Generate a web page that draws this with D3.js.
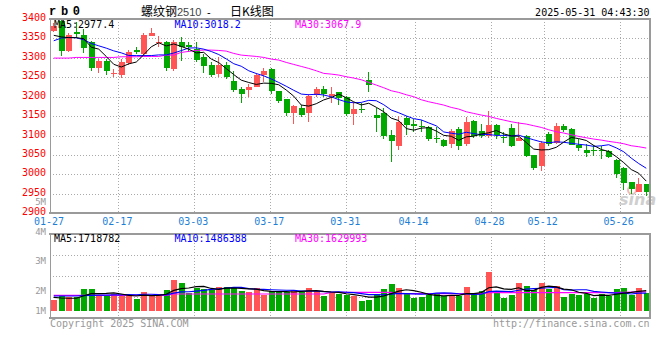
<!DOCTYPE html>
<html><head><meta charset="utf-8">
<script src="https://cdn.jsdelivr.net/npm/d3@7/dist/d3.min.js"></script>
<style>
html,body{margin:0;padding:0;background:#fff;}
svg{display:block;}
text{font-family:"DejaVu Sans Mono",monospace;font-size:10px;}
</style>
</head><body>
<svg id="chart" width="660" height="360"></svg>
<script>
// ---------------- data ----------------
const dates = ["01-27","02-05","02-06","02-07","02-10","02-11","02-12","02-13","02-14","02-17",
"02-18","02-19","02-20","02-21","02-24","02-25","02-26","02-27","02-28","03-03",
"03-04","03-05","03-06","03-07","03-10","03-11","03-12","03-13","03-14","03-17",
"03-18","03-19","03-20","03-21","03-24","03-25","03-26","03-27","03-28","03-31",
"04-01","04-02","04-03","04-07","04-08","04-09","04-10","04-11","04-14","04-15",
"04-16","04-17","04-18","04-21","04-22","04-23","04-24","04-25","04-28","04-29",
"04-30","05-06","05-07","05-08","05-09","05-12","05-13","05-14","05-15","05-16",
"05-19","05-20","05-21","05-22","05-23","05-26","05-27","05-28","05-29","05-30"];

const openP = [3370,3394,3318,3366,3358,3341,3273,3293,3259,3257,
3288,3320,3310,3357,3340,3340,3271,3341,3334,3323,
3301,3281,3258,3281,3241,3221,3217,3226,3256,3271,
3215,3194,3158,3172,3157,3204,3221,3202,3211,3198,
3155,3169,3244,3153,3158,3102,3072,3145,3131,3125,
3121,3093,3089,3078,3117,3078,3138,3112,3100,3128,
3097,3119,3087,3100,3051,3022,3104,3082,3125,3117,
3076,3064,3062,3064,3061,3038,3016,2980,2956,2975];
const highP = [3390,3398,3364,3392,3374,3344,3297,3297,3271,3297,
3321,3329,3365,3378,3355,3344,3346,3354,3340,3340,
3310,3290,3301,3290,3267,3226,3232,3260,3273,3273,
3216,3195,3178,3178,3208,3226,3228,3224,3211,3202,
3187,3184,3264,3170,3172,3115,3151,3151,3142,3141,
3125,3121,3091,3118,3121,3147,3139,3130,3164,3130,
3109,3130,3134,3101,3051,3087,3108,3132,3130,3119,
3091,3078,3076,3072,3064,3040,3018,2981,2990,2975];
const lowP = [3366,3306,3314,3352,3312,3267,3260,3256,3250,3247,
3281,3310,3305,3355,3329,3267,3267,3293,3314,3290,
3260,3250,3252,3245,3213,3185,3200,3224,3238,3208,
3185,3151,3131,3149,3134,3200,3200,3184,3179,3151,
3128,3158,3213,3110,3091,3031,3064,3101,3110,3110,
3087,3081,3070,3067,3063,3074,3095,3093,3095,3091,
3082,3070,3087,3044,3012,3010,3074,3078,3110,3076,
3061,3046,3048,3041,3042,2992,2961,2950,2954,2944];
const closeP = [3383,3318,3359,3362,3325,3273,3293,3265,3261,3290,
3314,3316,3359,3363,3342,3273,3342,3327,3327,3295,
3280,3256,3281,3250,3218,3208,3226,3256,3267,3215,
3190,3158,3177,3153,3201,3221,3207,3208,3196,3155,
3168,3167,3230,3144,3098,3085,3136,3127,3124,3124,
3091,3092,3072,3112,3072,3136,3100,3100,3128,3101,
3093,3074,3095,3048,3016,3082,3078,3125,3115,3076,
3067,3054,3061,3063,3044,3001,2977,2962,2975,2955];

const ma5 = [3358,3354,3352,3352,3349.4,3327.4,3322.4,3303.6,3283.4,3276.4,
3284.6,3289.2,3308,3328.4,3338.8,3330.6,3335.8,3329.4,3322.2,3312.8,
3314.2,3297,3287.8,3272.4,3257,3242.6,3236.6,3231.6,3235,3234.4,
3230.8,3217.2,3201.4,3178.6,3175.8,3182,3191.8,3198,3206.6,3197.4,
3186.8,3178.8,3183.2,3172.8,3161.4,3144.8,3138.6,3118,3114,3119.2,
3120.4,3111.6,3100.6,3098.2,3087.8,3096.8,3098.4,3104,3107.2,3113,
3104.4,3099.2,3098.2,3082.2,3065.2,3063,3063.8,3069.8,3083.2,3095.2,
3092.2,3087.4,3074.6,3064.2,3059,3045.8,3030.4,3012.6,3003,2982.8];
const ma10 = [3344,3351,3352.6,3351.7,3346.6,3337,3331,3325,3318,3312.9,
3306,3305.8,3305.8,3305.9,3307.6,3307.6,3312.5,3318.7,3325.3,3325.8,
3322.4,3316.4,3308.6,3297.3,3284.9,3278.4,3266.8,3259.7,3253.7,3245.7,
3236.7,3226.9,3216.5,3206.8,3205.1,3206.4,3204.5,3199.7,3192.6,3186.6,
3184.4,3185.3,3190.6,3189.7,3179.4,3165.8,3158.7,3150.6,3143.4,3140.3,
3132.6,3125.1,3109.3,3106.1,3103.5,3108.6,3105,3102.3,3102.7,3100.4,
3100.6,3098.8,3101.1,3094.7,3089.1,3083.7,3081.5,3084,3082.7,3080.2,
3077.6,3075.6,3072.2,3073.7,3076.5,3068.4,3058.3,3042,3028,3015.9];
const ma30 = [3299.4,3299.4,3299.4,3301.1,3301.1,3301.1,3301.1,3301.1,3301.1,3302.8,
3302.8,3302.8,3303.7,3303.7,3303.7,3307.1,3307.1,3314,3316.6,3319.1,
3320,3320,3319.1,3317.4,3311.4,3307.1,3305.4,3303.7,3301.1,3296.8,
3294.3,3288.3,3283.1,3278,3272.8,3266.8,3260,3258.2,3255.7,3251.4,
3248,3243.7,3236.8,3230,3223.1,3215.4,3211.1,3205.1,3200,3192.2,
3187,3182.8,3178.5,3172.5,3168.2,3161.3,3157,3152.8,3149.4,3144.2,
3139.9,3135.6,3132.2,3129.6,3125.3,3121,3115,3109.9,3106.5,3102.2,
3097.9,3094.4,3091,3088.4,3085,3082.4,3079,3073.9,3071.3,3067.9];

// volume in millions of lots
const volumeM = [0.93,1.27,1.16,1.21,1.86,1.86,1.27,1.27,1.44,1.36,
1.27,1.02,1.61,1.27,1.44,1.78,2.63,2.37,1.55,1.98,
1.86,1.78,2.03,2.03,2.03,1.69,1.61,1.95,1.36,1.69,
1.61,1.61,1.78,1.61,1.95,1.69,1.27,1.55,1.44,1.36,
1.27,0.85,0.93,1.44,1.86,2.29,1.95,1.44,1.10,1.19,
1.36,1.50,1.27,1.27,1.27,2.03,1.55,1.69,3.31,1.69,
1.10,1.36,2.37,2.12,1.78,2.37,1.86,2.12,1.19,1.44,
1.36,1.40,1.09,1.47,1.27,1.85,1.94,1.36,1.94,1.52];
const volMa5 = [1.16,1.10,1.08,1.08,1.29,1.47,1.47,1.49,1.54,1.44,
1.32,1.27,1.34,1.31,1.32,1.42,1.75,1.90,1.95,2.06,
2.08,1.91,1.84,1.94,1.95,1.91,1.88,1.86,1.73,1.66,
1.64,1.64,1.61,1.66,1.71,1.73,1.66,1.61,1.58,1.46,
1.38,1.29,1.17,1.17,1.27,1.47,1.69,1.80,1.73,1.59,
1.41,1.32,1.28,1.32,1.33,1.47,1.48,1.56,1.97,2.05,
1.87,1.83,1.97,1.73,1.75,2.00,2.10,2.05,1.86,1.80,
1.59,1.50,1.30,1.35,1.32,1.42,1.52,1.58,1.67,1.72];
const volMa10 = [1.27,1.27,1.27,1.27,1.30,1.33,1.35,1.35,1.36,1.36,
1.40,1.37,1.42,1.42,1.38,1.37,1.51,1.62,1.63,1.69,
1.75,1.83,1.87,1.95,2.00,2.00,1.89,1.85,1.83,1.80,
1.78,1.76,1.74,1.69,1.69,1.69,1.65,1.61,1.62,1.59,
1.55,1.48,1.39,1.38,1.37,1.43,1.49,1.48,1.45,1.43,
1.44,1.51,1.54,1.52,1.46,1.44,1.40,1.42,1.64,1.69,
1.67,1.65,1.76,1.85,1.90,1.93,1.97,2.01,1.80,1.77,
1.80,1.80,1.67,1.61,1.56,1.51,1.51,1.44,1.51,1.52];
const volMa30 = [1.33,1.33,1.33,1.33,1.33,1.33,1.33,1.33,1.33,1.33,
1.33,1.33,1.33,1.33,1.33,1.33,1.44,1.44,1.44,1.44,
1.44,1.44,1.44,1.44,1.44,1.44,1.44,1.44,1.44,1.44,
1.44,1.44,1.44,1.44,1.44,1.44,1.44,1.58,1.58,1.58,
1.58,1.58,1.58,1.58,1.58,1.58,1.47,1.47,1.47,1.47,
1.47,1.47,1.47,1.47,1.47,1.47,1.47,1.47,1.55,1.55,
1.55,1.55,1.55,1.55,1.55,1.55,1.55,1.55,1.55,1.55,
1.55,1.55,1.55,1.55,1.55,1.56,1.58,1.60,1.62,1.63];

const priceTicks = [3400,3350,3300,3250,3200,3150,3100,3050,3000,2950,2900];
const dateTicks = ["01-27","02-17","03-03","03-17","03-31","04-14","04-28","05-12","05-26"];
const volTickVals = [5,4,3,2,1];
const volTickLabels = ["5M","4M","3M","2M","1M"];
const mainLegend = ["MA5:2977.4","MA10:3018.2","MA30:3067.9"];
const volLegend = ["MA5:1718782","MA10:1486388","MA30:1629993"];
const symbolText = "r b 0";
const titleParts = ["螺纹钢","2510","-","日K线图"];
const timeText = "2025-05-31 04:43:30";
const footLeft = "Copyright 2025 SINA.COM";
const footRight = "http://finance.sina.com.cn";

// ---------------- layout ----------------
const PL = 50, PR = 650, PT = 19, PB = 213.3;
const VT = 234.3, VB = 318, VBASE = 311;
const RED = "#ff5555", GREEN = "#00a800", GRID = "#aaaaaa", BORDER = "#9a9a9a";
const MA_COLORS = ["#000000", "#0000ff", "#ff00ff"];
const LEGEND_X = [54, 174.5, 295];

const svg = d3.select("#chart");
svg.append("rect").attr("width", 660).attr("height", 360).attr("fill", "#fff");

const x = d3.scaleBand().domain(dates).range([PL, PR]).padding(0);
const xg = d3.scalePoint().domain(dates).range([PL, PR]);
const y = d3.scaleLinear().domain([2900, 3400]).range([PB, PT]);
const yv = d3.scaleLinear().domain([0, 6.5]).range([VBASE, VT]);
const yvLabel = d3.scaleLinear().domain([5, 2]).range([201.5, 290.7]);
const cx = d => x(d) + x.bandwidth() / 2;
const crisp = v => Math.round(v) + 0.5;

// ---------------- grids ----------------
const grid = svg.append("g").attr("stroke", GRID).attr("stroke-dasharray", "1,2")
  .attr("shape-rendering", "crispEdges");
grid.selectAll("line.h").data(priceTicks.slice(1, -1)).join("line").attr("class", "h")
  .attr("x1", PL).attr("x2", PR).attr("y1", d => crisp(y(d))).attr("y2", d => crisp(y(d)));
grid.selectAll("line.v").data(dateTicks.slice(1)).join("line").attr("class", "v")
  .attr("x1", d => crisp(xg(d))).attr("x2", d => crisp(xg(d))).attr("y1", PT).attr("y2", PB);
grid.selectAll("line.vv").data(dateTicks.slice(1)).join("line").attr("class", "vv")
  .attr("x1", d => crisp(xg(d))).attr("x2", d => crisp(xg(d))).attr("y1", VT).attr("y2", VB);
grid.selectAll("line.vh").data([1, 2, 3]).join("line").attr("class", "vh")
  .attr("x1", PL).attr("x2", PR)
  .attr("y1", k => crisp(VT + k * (VB - VT) / 4)).attr("y2", k => crisp(VT + k * (VB - VT) / 4));

// ---------------- watermark ----------------
const wm = svg.append("g");
wm.append("circle").attr("cx", 632).attr("cy", 190).attr("r", 4)
  .attr("fill", "none").attr("stroke", "#f3b8b8").attr("stroke-width", 2);
wm.append("text").attr("x", 619).attr("y", 205).text("sina")
  .style("font-family", "'DejaVu Sans',sans-serif").style("font-size", "16px")
  .style("font-style", "italic").style("font-weight", "bold").attr("fill", "#cfcfcf");

// ---------------- candles ----------------
const idx = d3.range(dates.length);
const isUp = i => closeP[i] >= openP[i];
const cg = svg.append("g").attr("shape-rendering", "crispEdges");
cg.selectAll("line").data(idx).join("line")
  .attr("x1", i => Math.floor(cx(dates[i])) + 0.5).attr("x2", i => Math.floor(cx(dates[i])) + 0.5)
  .attr("y1", i => Math.round(y(highP[i]))).attr("y2", i => Math.round(y(lowP[i])))
  .attr("stroke", i => isUp(i) ? RED : GREEN);
cg.selectAll("rect").data(idx).join("rect")
  .attr("x", i => Math.floor(cx(dates[i])) - 2).attr("width", 6)
  .attr("y", i => Math.round(y(Math.max(openP[i], closeP[i]))))
  .attr("height", i => Math.max(1, Math.round(y(Math.min(openP[i], closeP[i]))) - Math.round(y(Math.max(openP[i], closeP[i])))))
  .attr("fill", i => isUp(i) ? RED : GREEN);

// ---------------- volume bars ----------------
const vg = svg.append("g").attr("shape-rendering", "crispEdges");
vg.selectAll("rect").data(idx).join("rect")
  .attr("x", i => Math.floor(cx(dates[i])) - 2).attr("width", 6)
  .attr("y", i => Math.round(yv(volumeM[i])))
  .attr("height", i => VBASE - Math.round(yv(volumeM[i])))
  .attr("fill", i => isUp(i) ? RED : GREEN);

// ---------------- MA lines ----------------
const priceLine = d3.line().x((d, i) => cx(dates[i])).y(d => y(d));
const volLine = d3.line().x((d, i) => cx(dates[i])).y(d => yv(d));
[ma30, ma10, ma5].forEach((s, k) => {
  svg.append("path").datum(s).attr("d", priceLine).attr("fill", "none")
    .attr("stroke", MA_COLORS[2 - k]).attr("stroke-width", 1);
});
[volMa30, volMa10, volMa5].forEach((s, k) => {
  svg.append("path").datum(s).attr("d", volLine).attr("fill", "none")
    .attr("stroke", MA_COLORS[2 - k]).attr("stroke-width", 1.2);
});

// ---------------- borders ----------------
const bd = svg.append("g").attr("stroke", BORDER).attr("fill", "none").attr("shape-rendering", "crispEdges");
[[PT, PB], [VT, VB]].forEach(([t, b]) => {
  bd.append("line").attr("x1", PL - 1).attr("x2", PR + 1).attr("y1", t).attr("y2", t).attr("stroke-width", 2);
  bd.append("line").attr("x1", PL - 1).attr("x2", PR + 1).attr("y1", b).attr("y2", b).attr("stroke-width", 2);
  bd.append("line").attr("x1", PR).attr("x2", PR).attr("y1", t).attr("y2", b).attr("stroke-width", 2);
  bd.append("line").attr("x1", PL + 0.5).attr("x2", PL + 0.5).attr("y1", t).attr("y2", b).attr("stroke-width", 1);
});

// ---------------- axes labels ----------------
svg.append("g").selectAll("text").data(priceTicks).join("text")
  .attr("x", 46).attr("y", d => y(d) + 2).attr("text-anchor", "end")
  .attr("fill", "#ff0000").text(d => d);
svg.append("g").selectAll("text").data(dateTicks).join("text")
  .attr("x", d => xg(d) - 1).attr("y", 224.5).attr("text-anchor", "middle")
  .attr("fill", "#1f7fd6").text(d => d);
svg.append("g").selectAll("text").data(volTickVals).join("text")
  .attr("x", 46).attr("y", d => Math.min(yvLabel(d), 310.7) + 3.3).attr("text-anchor", "end")
  .style("font-size", "9px")
  .attr("fill", "#999999").text((d, i) => volTickLabels[i]);

// ---------------- legends ----------------
svg.append("g").selectAll("text").data(mainLegend).join("text")
  .attr("x", (d, i) => LEGEND_X[i]).attr("y", 27.5).attr("fill", (d, i) => MA_COLORS[i]).text(d => d);
svg.append("g").selectAll("text").data(volLegend).join("text")
  .attr("x", (d, i) => LEGEND_X[i]).attr("y", 242).attr("fill", (d, i) => MA_COLORS[i]).text(d => d);

// ---------------- header / footer ----------------
svg.append("text").attr("x", 49).attr("y", 15).text(symbolText)
  .attr("textLength", 31).attr("lengthAdjust", "spacing")
  .style("font-family", "'Liberation Mono',monospace").style("font-size", "12px")
  .style("font-weight", "bold").attr("fill", "#000");
const cjk = "'Noto Sans CJK SC',sans-serif";
svg.append("text").attr("x", 141).attr("y", 15.5).text(titleParts[0])
  .style("font-family", cjk).style("font-size", "12px").attr("fill", "#000");
svg.append("text").attr("x", 177).attr("y", 15.5).text(titleParts[1])
  .style("font-family", "'Liberation Sans',sans-serif").style("font-size", "11px").attr("fill", "#444");
svg.append("text").attr("x", 207).attr("y", 15.5).text(titleParts[2])
  .style("font-family", "'Liberation Sans',sans-serif").style("font-size", "11px").attr("fill", "#000");
svg.append("text").attr("x", 230).attr("y", 15.5).text(titleParts[3])
  .style("font-family", cjk).style("font-size", "12px").attr("fill", "#000");
svg.append("text").attr("x", 649.5).attr("y", 16).attr("text-anchor", "end").attr("fill", "#000").text(timeText);
svg.append("text").attr("x", 50).attr("y", 326.5).attr("fill", "#999999").text(footLeft);
svg.append("text").attr("x", 649.5).attr("y", 326.5).attr("text-anchor", "end").attr("fill", "#999999").text(footRight);
</script>
</body></html>
